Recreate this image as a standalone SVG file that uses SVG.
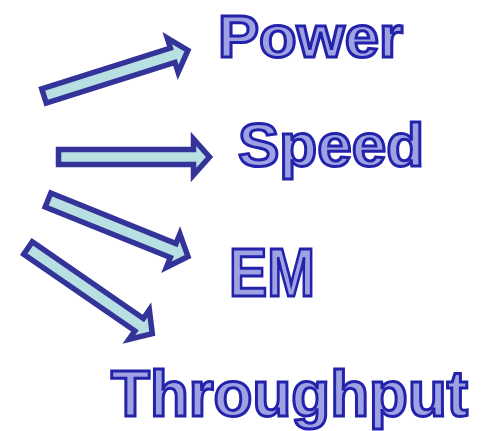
<svg xmlns="http://www.w3.org/2000/svg" width="487" height="431" viewBox="0 0 487 431">
<style>
.arrow{fill:#b8e0e3;stroke:#333399;stroke-width:5.5;stroke-linejoin:miter;stroke-miterlimit:10}
.lbl{font-family:"Liberation Sans",Arial,sans-serif;font-weight:bold;fill:#9ea2e2;stroke:#2222aa;stroke-width:3}
</style>
<defs>
<path id="arr" d="M0,-7.5 L135,-7.5 L135,-18 L151,0 L135,18 L135,7.5 L0,7.5 Z"/>
</defs>
<g id="connectors">
<use href="#arr" class="arrow" transform="translate(44,96) rotate(-17.6)"/>
<use href="#arr" class="arrow" transform="translate(58.5,157)"/>
<use href="#arr" class="arrow" transform="translate(48,200) rotate(22)"/>
<use href="#arr" class="arrow" transform="translate(28,248) rotate(34.6)"/>
</g>
<g id="power"><text class="lbl" x="218" y="57" font-size="60" textLength="185" lengthAdjust="spacingAndGlyphs">Power</text></g>
<g id="speed"><text class="lbl" x="238" y="166" font-size="62" textLength="186" lengthAdjust="spacingAndGlyphs">Speed</text></g>
<g id="em"><text class="lbl" x="229" y="296" font-size="68" textLength="86" lengthAdjust="spacingAndGlyphs">EM</text></g>
<g id="throughput"><text class="lbl" x="111" y="416" font-size="64" textLength="357" lengthAdjust="spacingAndGlyphs">Throughput</text></g>
</svg>
